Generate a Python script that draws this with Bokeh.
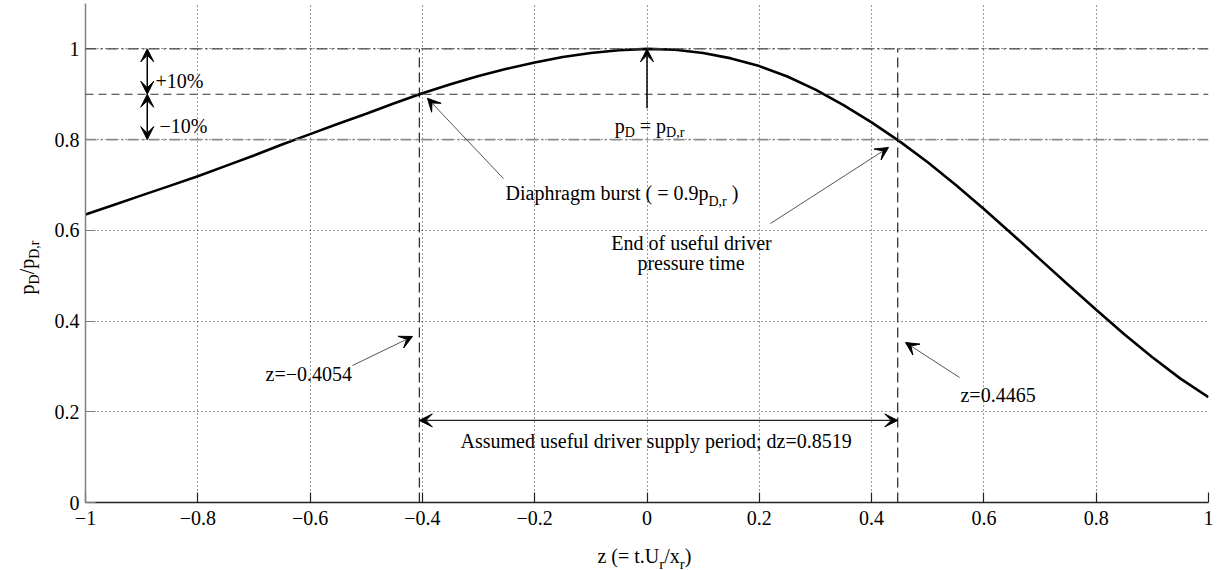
import math
from bokeh.plotting import figure
from bokeh.layouts import row, column
from bokeh.models import Range1d, CustomJSTickFormatter, Label, Arrow, VeeHead, Span
from bokeh.embed import file_html
from bokeh.resources import INLINE

# ---------------- data ----------------
z_vals = [-1.00, -0.95, -0.90, -0.85, -0.80, -0.75, -0.70, -0.65, -0.60, -0.55,
          -0.50, -0.45, -0.40, -0.35, -0.30, -0.25, -0.20, -0.15, -0.10, -0.05,
          0.00, 0.05, 0.10, 0.15, 0.20, 0.25, 0.30, 0.35, 0.40, 0.45,
          0.50, 0.55, 0.60, 0.65, 0.70, 0.75, 0.80, 0.85, 0.90, 0.95, 1.00]
p_ratio = [0.635, 0.656, 0.677, 0.698, 0.719, 0.742, 0.765, 0.789, 0.812, 0.835,
           0.857, 0.880, 0.902, 0.922, 0.940, 0.956, 0.970, 0.982, 0.991, 0.997,
           1.000, 0.998, 0.991, 0.979, 0.962, 0.939, 0.910, 0.876, 0.838, 0.796,
           0.750, 0.700, 0.647, 0.592, 0.536, 0.480, 0.425, 0.371, 0.320, 0.273, 0.232]
x_ticks = [-1, -0.8, -0.6, -0.4, -0.2, 0, 0.2, 0.4, 0.6, 0.8, 1]
y_ticks = [0, 0.2, 0.4, 0.6, 0.8, 1]
z_burst = -0.4054
z_end = 0.4465
dz = 0.8519
level_ref = 1.0
level_burst = 0.9
level_end = 0.8

FONT = "Liberation Serif"
LEFT_W = 45
MAIN_H = 540
TOTAL_W, TOTAL_H = 1222, 570
FRAME_TOP, FRAME_BOTTOM = 3, 502

p = figure(width=TOTAL_W - LEFT_W, height=MAIN_H, x_range=Range1d(-1, 1), y_range=Range1d(0, 1.1),
           output_backend="svg", toolbar_location=None,
           min_border_left=85 - LEFT_W, min_border_right=14, min_border_top=FRAME_TOP,
           min_border_bottom=MAIN_H - FRAME_BOTTOM)
p.outline_line_color = None
p.background_fill_color = "white"
p.border_fill_color = "white"

fmt = CustomJSTickFormatter(code="return tick < 0 ? '\\u2212' + String(-tick) : String(tick);")
for ax, ticks, col in ((p.xaxis, x_ticks, "#222222"), (p.yaxis, y_ticks, "#808080")):
    ax.ticker = ticks
    ax.formatter = fmt
    ax.axis_line_color = col
    ax.axis_line_width = 1.5
    ax.major_tick_line_color = col
    ax.major_tick_line_width = 1.2
    ax.major_tick_in = 10
    ax.major_tick_out = 0
    ax.minor_tick_line_color = None
    ax.major_label_text_font = FONT
    ax.major_label_text_font_size = "20px"
    ax.major_label_text_color = "black"
p.xaxis.major_label_standoff = 8
p.yaxis.major_label_standoff = 6

for g in (p.xgrid, p.ygrid):
    g.grid_line_color = "#333333"
    g.grid_line_dash = "1 3"
    g.grid_line_width = 1

# reference levels
p.add_layout(Span(location=level_ref, dimension="width", line_color="#444444",
                  line_width=1.2, line_dash="11 4 2 4"))
p.add_layout(Span(location=level_burst, dimension="width", line_color="#333333",
                  line_width=1.2, line_dash="8 5"))
p.add_layout(Span(location=level_end, dimension="width", line_color="#8a8a8a",
                  line_width=1.8, line_dash="11 4 2 4"))
p.segment(x0=[z_burst, z_end], y0=[0, 0], x1=[z_burst, z_end], y1=[level_ref, level_ref],
          line_color="#222222", line_width=1.2, line_dash="10 5")

p.line(z_vals, p_ratio, line_color="black", line_width=2.6)


def head():
    return VeeHead(size=13, fill_color="black", line_color="black", line_width=1)


def arrow(x0, y0, x1, y1, color="#555555", width=1.0, double=False):
    p.add_layout(Arrow(x_start=x0, y_start=y0, x_end=x1, y_end=y1,
                       start=head() if double else None, end=head(),
                       line_color=color, line_width=width))


# +/-10% arrows
arrow(-0.890, level_burst, -0.890, level_ref, color="black", width=1.5, double=True)
arrow(-0.890, level_end, -0.890, level_burst, color="black", width=1.5, double=True)
# peak arrow
arrow(0.0, 0.869, 0.0, level_ref, color="black", width=1.5)
# annotations
arrow(-0.2556, 0.714, -0.391, 0.891)
arrow(0.2199, 0.615, 0.4301, 0.7826)
arrow(-0.5245, 0.302, -0.4176, 0.366)
arrow(0.5566, 0.2756, 0.4604, 0.3527)
arrow(z_burst, 0.181, z_end, 0.181, color="#222222", width=1.2, double=True)

# ---------- text helpers ----------
W = {' ': 250, '%': 833, '(': 333, ')': 333, '+': 564, ',': 250, '-': 333, '.': 250,
     '/': 278, ';': 278, '=': 564, '\u2212': 564, 'A': 722, 'D': 722, 'E': 611,
     'U': 722, 'a': 444, 'b': 500, 'c': 444, 'd': 500, 'e': 444, 'f': 333, 'g': 500,
     'h': 500, 'i': 278, 'l': 278, 'm': 778, 'n': 500, 'o': 500, 'p': 500, 'r': 333,
     's': 389, 't': 278, 'u': 500, 'v': 500, 'x': 500, 'y': 500, 'z': 444}


def tw(s, size):
    return sum(W.get(c, 500) for c in s) * size / 1000.0


def label(fig, x, y, text, size=20, align="left"):
    fig.add_layout(Label(x=x, y=y, text=text, text_font=FONT, text_font_size=f"{size}px",
                         text_align=align, text_baseline="alphabetic", text_color="black"))


def rich(fig, x, y, runs, align="center", angle=0.0, size=20, sub=14, drop=8):
    total = sum(tw(t, sub if s else size) for t, s in runs)
    cum = -total / 2 if align == "center" else 0.0
    for t, s in runs:
        fs = sub if s else size
        lead = len(t) - len(t.lstrip(' '))
        cum += tw(t[:lead], fs)
        core = t.strip(' ')
        if core:
            if angle == 0:
                xo, yo = cum, (-drop if s else 0)
            else:
                xo, yo = (drop if s else 0), cum
            fig.add_layout(Label(x=x, y=y, x_offset=xo, y_offset=yo, text=core, angle=angle,
                                 text_align="left", text_baseline="alphabetic",
                                 text_font=FONT, text_font_size=f"{fs}px", text_color="black"))
        cum += tw(t[lead:], fs)


label(p, -0.8753, 0.930, "+10%")
label(p, -0.8682, 0.831, "\u221210%")
rich(p, 0.0045, 0.831, [("p", False), ("D", True), (" = p", False), ("D,r", True)], drop=7)
rich(p, -0.0446, 0.683, [("Diaphragm burst ( = 0.9p", False), ("D,r", True), (" )", False)], drop=9)
label(p, 0.0793, 0.573, "End of useful driver", align="center")
label(p, 0.0784, 0.527, "pressure time", align="center")
label(p, -0.6794, 0.284, "z=\u22120.4054")
label(p, 0.5583, 0.236, "z=0.4465")
label(p, -0.3321, 0.1345, "Assumed useful driver supply period; dz=%.4f" % dz)


def blank(w, h, xr, yr):
    f = figure(width=w, height=h, x_range=xr, y_range=yr, output_backend="svg",
               toolbar_location=None, min_border=0,
               x_axis_location=None, y_axis_location=None)
    f.grid.visible = False
    f.outline_line_color = None
    f.background_fill_color = "white"
    f.border_fill_color = "white"
    return f


# axis titles (canvas pixel coordinates, y measured from the top).
# The left strip's frame is aligned with the main frame by the row layout.
ylab = blank(LEFT_W, MAIN_H, Range1d(0, LEFT_W), Range1d(FRAME_BOTTOM, FRAME_TOP))
xlab = blank(TOTAL_W, TOTAL_H - MAIN_H, Range1d(0, TOTAL_W), Range1d(TOTAL_H, MAIN_H))

rich(xlab, 644, 555, [("z (= t.U", False), ("r", True), ("/x", False), ("r", True), (")", False)],
     drop=8, sub=15)
rich(ylab, 26, 267, [("p", False), ("D", True), ("/p", False), ("D,r", True)],
     angle=math.pi / 2, drop=8)

layout = column(row(ylab, p), xlab)
open("out.html", "w", encoding="utf-8").write(file_html(layout, INLINE))
